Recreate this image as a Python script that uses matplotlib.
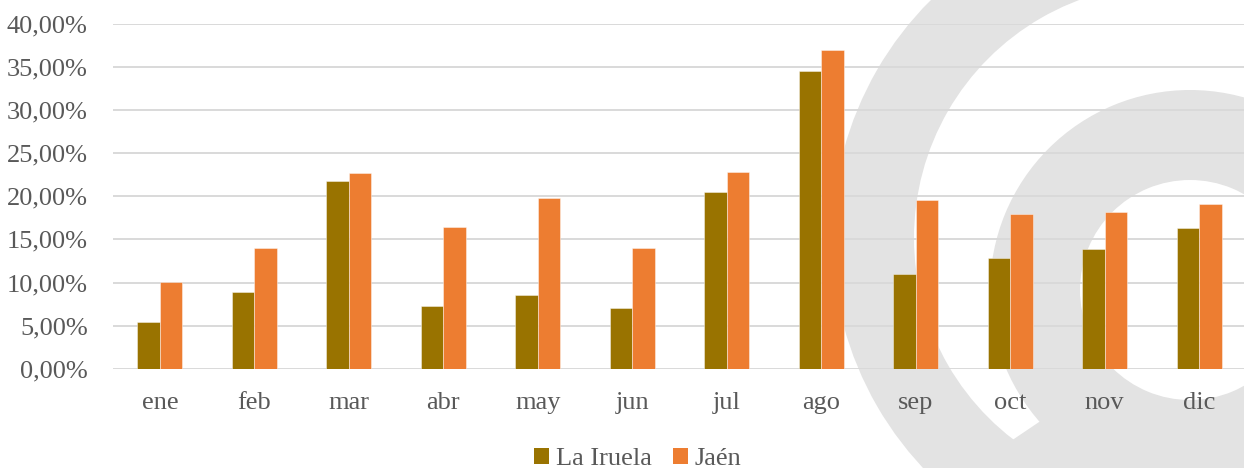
import matplotlib
matplotlib.use("Agg")
import matplotlib.pyplot as plt
from matplotlib.patches import Wedge, Polygon, Patch
import numpy as np

# ---- data ----
months = ['ene', 'feb', 'mar', 'abr', 'may', 'jun', 'jul', 'ago', 'sep', 'oct', 'nov', 'dic']
la_iruela = [5.45, 8.90, 21.75, 7.28, 8.51, 7.04, 20.47, 34.55, 10.99, 12.85, 13.89, 16.36]
jaen = [10.10, 13.97, 22.75, 16.44, 19.81, 13.97, 22.83, 36.95, 19.58, 17.95, 18.18, 19.15]
series_names = ['La Iruela', 'Jaén']
y_ticks = [0, 5, 10, 15, 20, 25, 30, 35, 40]

# ---- style ----
W, H = 1244, 468
DPI = 100
c_olive = '#997300'
c_orange = '#ED7D31'
txt = '#595959'
grid_c = '#D9D9D9'
wm_c = '#E3E3E3'
font = 'Liberation Serif'
fs = 19

plt.rcParams['font.family'] = [font, 'DejaVu Serif']

fig = plt.figure(figsize=(W / DPI, H / DPI), dpi=DPI)
fig.patch.set_facecolor('white')

# ---- background watermark (decorative swirl) in pixel coordinates ----
bg = fig.add_axes([0, 0, 1, 1], zorder=0)
bg.set_xlim(0, W)
bg.set_ylim(H, 0)
bg.axis('off')
bg.add_patch(Wedge((1168, 238), 336, 60, 300, width=82, facecolor=wm_c, edgecolor='none'))
bg.add_patch(Wedge((1190, 290), 200, 0, 360, width=90, facecolor=wm_c, edgecolor='none'))
bg.add_patch(Polygon([(1005, 445), (1045, 418), (1080, 440), (1110, 470), (1000, 470)],
                     closed=True, facecolor=wm_c, edgecolor='none'))

# ---- main chart ----
left = 112.75 / W
bottom = (H - 368.7) / H
width = 1133.5 / W
height = (368.7 - 24) / H
ax = fig.add_axes([left, bottom, width, height], zorder=1)
ax.set_facecolor('none')

x = np.arange(len(months))
bw = 0.238
ax.bar(x - bw / 2, la_iruela, bw, color=c_olive, edgecolor=(1, 1, 1, 0.5), linewidth=0.6,
       label=series_names[0], zorder=3)
ax.bar(x + bw / 2, jaen, bw, color=c_orange, edgecolor=(1, 1, 1, 0.5), linewidth=0.6,
       label=series_names[1], zorder=3)

ax.set_xlim(-0.5, len(months) - 0.5)
ax.set_ylim(0, 40)
ax.set_yticks(y_ticks)
ax.set_yticklabels([f"{v:.2f}%".replace('.', ',') for v in y_ticks])
ax.set_xticks(x)
ax.set_xticklabels(months)

ax.yaxis.grid(True, color=grid_c, linewidth=1.4, zorder=0)
ax.set_axisbelow(True)
for s in ax.spines.values():
    s.set_visible(False)
ax.tick_params(axis='both', length=0, labelsize=fs, labelcolor=txt)
ax.tick_params(axis='y', pad=18)
ax.tick_params(axis='x', pad=17)

handles = [Patch(facecolor=c_olive, edgecolor='none'), Patch(facecolor=c_orange, edgecolor='none')]
leg = fig.legend(handles, series_names, loc='center', ncol=2,
                 bbox_to_anchor=(637.5 / W, 1 - 459 / H), bbox_transform=fig.transFigure,
                 frameon=False, fontsize=fs, handlelength=0.57, handleheight=0.57,
                 handletextpad=0.25, columnspacing=0.8, borderpad=0, borderaxespad=0)
for t in leg.get_texts():
    t.set_color(txt)

fig.savefig('out.png', dpi=DPI)
